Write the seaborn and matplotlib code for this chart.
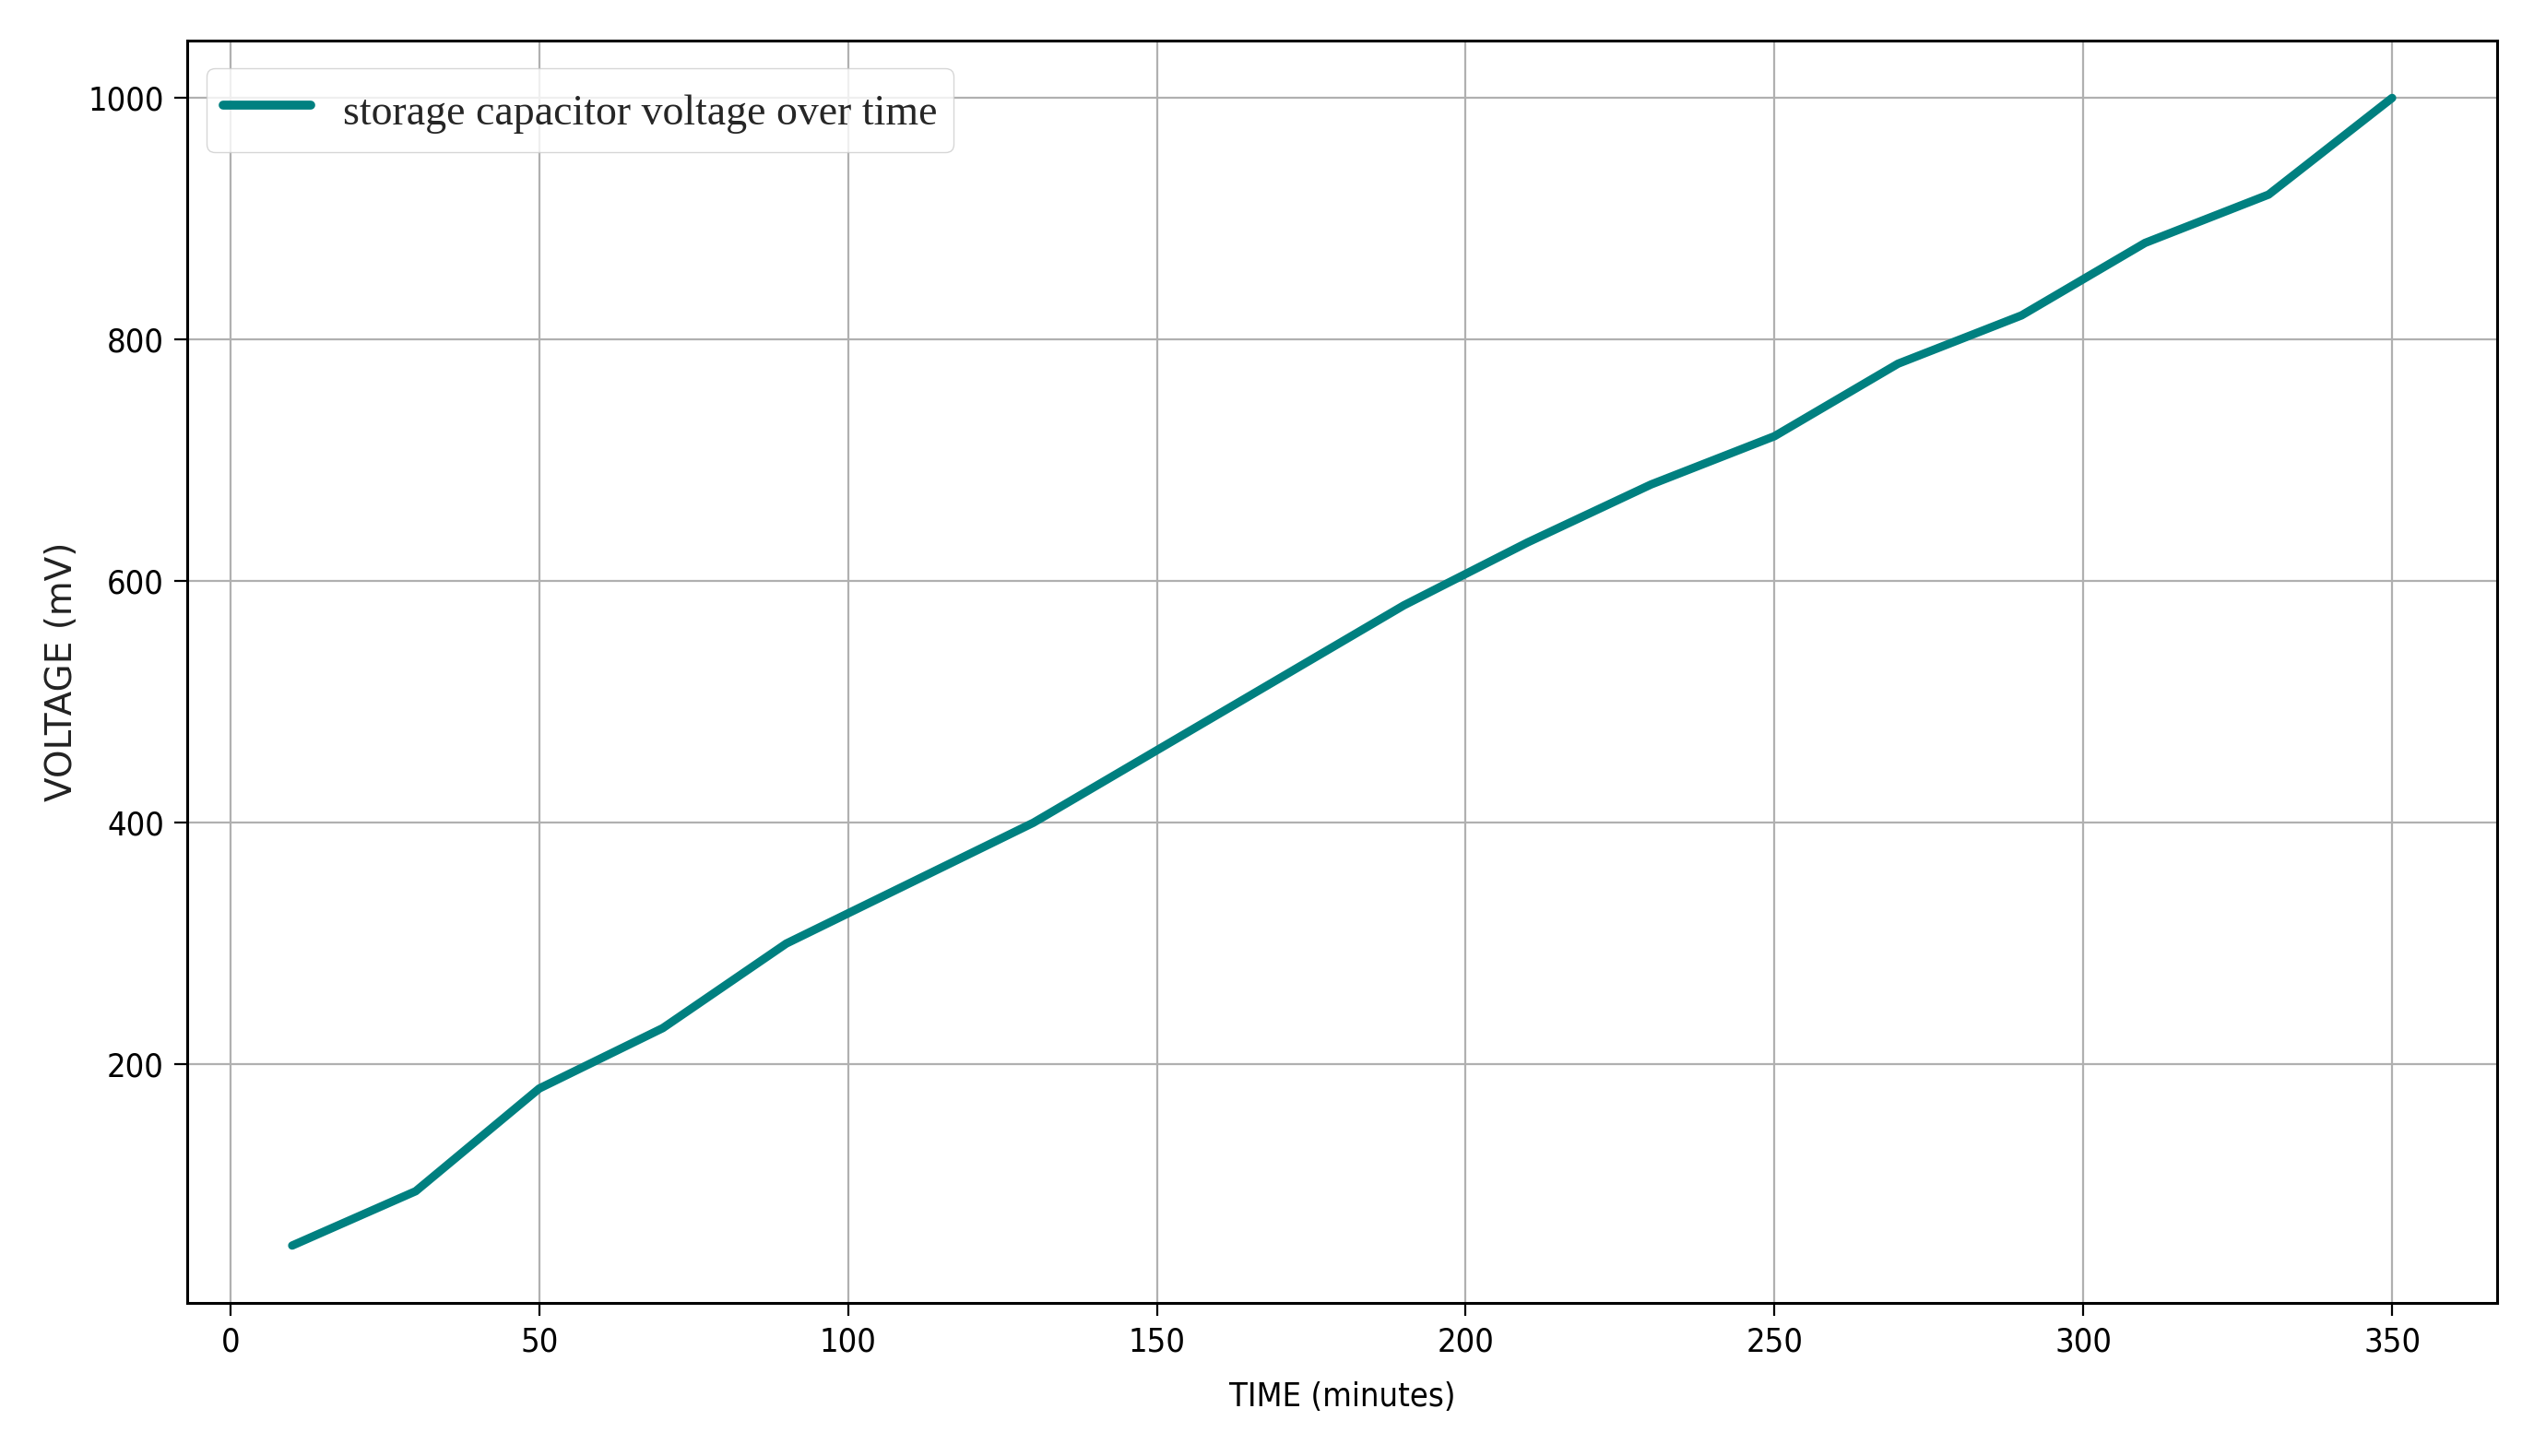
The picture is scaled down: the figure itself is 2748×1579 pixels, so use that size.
import matplotlib
matplotlib.use("Agg")
import matplotlib.pyplot as plt
from matplotlib import font_manager as fm
import seaborn as sns
import pandas as pd

time_min = [10, 30, 50, 70, 90, 110, 130, 150, 170, 190, 210, 230, 250, 270, 290, 310, 330, 350]
voltage_mv = [50, 95, 180, 230, 300, 350, 400, 460, 520, 580, 632, 680, 720, 780, 820, 880, 920, 1000]
series_label = "storage capacitor voltage over time"
x_label = "TIME (minutes)"
y_label = "VOLTAGE (mV)"

sns.set_theme(style="ticks")
plt.rcParams['font.family'] = ['DejaVu Sans']

# pick a narrow sans for horizontal text if one is installed
names = {f.name for f in fm.fontManager.ttflist}
cond_files = [f for f in fm.fontManager.ttflist
              if f.name == "DejaVu Sans" and "Condensed" in f.fname and "Bold" not in f.fname
              and "Oblique" not in f.fname]
if "Liberation Sans Narrow" in names:
    narrow = fm.FontProperties(family="Liberation Sans Narrow", size=27)
elif cond_files:
    narrow = fm.FontProperties(fname=cond_files[0].fname, size=26)
else:
    narrow = fm.FontProperties(family="DejaVu Sans", size=24)

df = pd.DataFrame({"time": time_min, "voltage": voltage_mv})

W, H = 2748, 1579
fig = plt.figure(figsize=(W / 100, H / 100), dpi=100)
ax = fig.add_axes([203 / W, 1 - 1413 / H, (2708 - 203) / W, (1413 - 44) / H])

sns.lineplot(data=df, x="time", y="voltage", ax=ax, color="#008080",
             linewidth=6.5, label=series_label)

ax.grid(True, color="#b0b0b0", linewidth=1.6)
ax.set_axisbelow(True)
for s in ax.spines.values():
    s.set_color("black")
    s.set_linewidth(2.2)

ax.set_xticks([0, 50, 100, 150, 200, 250, 300, 350])
ax.set_yticks([200, 400, 600, 800, 1000])
ax.tick_params(axis="both", length=10, width=1.6, color="black",
               labelcolor="black", pad=8)
for lab in ax.get_xticklabels() + ax.get_yticklabels():
    lab.set_fontproperties(narrow)
ax.set_xlabel(x_label, fontproperties=narrow, color="black", labelpad=19)
ax.set_ylabel(y_label, fontsize=28, color="#222222", labelpad=7)

leg = ax.legend(loc="upper left", bbox_to_anchor=(0.0084, 0.978), borderaxespad=0,
                prop={"family": "Liberation Serif", "size": 33},
                frameon=True, fancybox=True, framealpha=0.8, edgecolor="#cccccc",
                handlelength=2.07, handleheight=1.45, borderpad=0.4, handletextpad=0.75)
for line in leg.get_lines():
    line.set_linewidth(7)

fig.savefig("out.png", dpi=100)
